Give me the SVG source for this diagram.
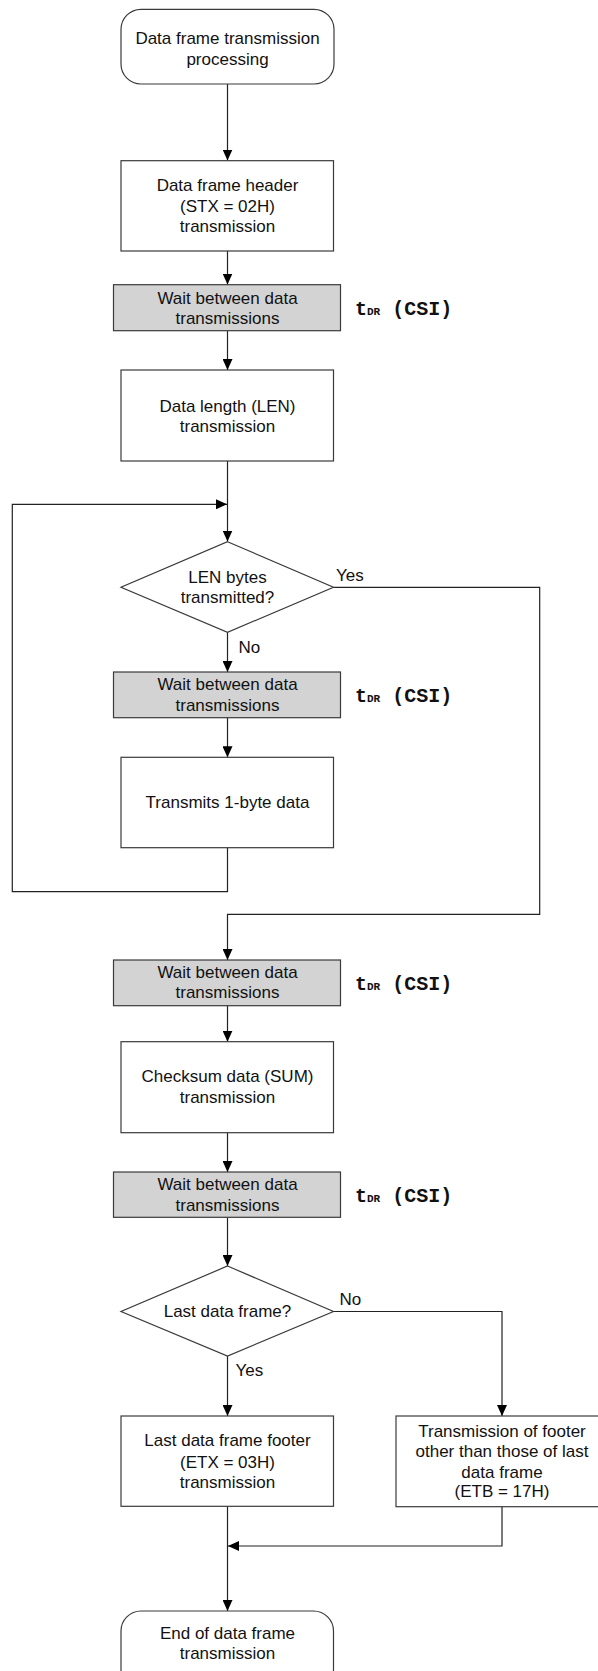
<svg xmlns="http://www.w3.org/2000/svg" width="598" height="1671" viewBox="0 0 598 1671">
<defs>
<marker id="arr" markerWidth="11" markerHeight="10" refX="11" refY="5" orient="auto" markerUnits="userSpaceOnUse">
<path d="M0,0 L11,5 L0,10 z" fill="#000"/>
</marker>
<style>
.box{fill:#fff;stroke:#3a3a3a;stroke-width:1.2}
.wait{fill:#d3d3d3;stroke:#3a3a3a;stroke-width:1.2}
.t{font-family:"Liberation Sans",Arial,sans-serif;font-size:17px;fill:#111;text-anchor:middle}
.l{font-family:"Liberation Sans",Arial,sans-serif;font-size:17px;fill:#111}
.m{font-family:"Liberation Mono","Courier New",monospace;font-size:20px;font-weight:bold;fill:#111}
.s{font-size:11px}
.c{fill:none;stroke:#222;stroke-width:1.2}
</style>
</defs>
<g id="connectors">
<path class="c" d="M227.5,84 V160.5" marker-end="url(#arr)"/>
<path class="c" d="M227.5,251 V284.5" marker-end="url(#arr)"/>
<path class="c" d="M227.5,330.7 V370" marker-end="url(#arr)"/>
<path class="c" d="M227.5,461 V541.5" marker-end="url(#arr)"/>
<path class="c" d="M227.5,632.3 V672" marker-end="url(#arr)"/>
<path class="c" d="M227.5,717.7 V757.3" marker-end="url(#arr)"/>
<path class="c" d="M227.5,847.7 V891.7 H12.3 V504.3 H227" marker-end="url(#arr)"/>
<path class="c" d="M333.5,587.3 H539.7 V914.3 H227.5 V960" marker-end="url(#arr)"/>
<path class="c" d="M227.5,1005.7 V1041.7" marker-end="url(#arr)"/>
<path class="c" d="M227.5,1132.7 V1172" marker-end="url(#arr)"/>
<path class="c" d="M227.5,1217.3 V1266" marker-end="url(#arr)"/>
<path class="c" d="M227.5,1356 V1416" marker-end="url(#arr)"/>
<path class="c" d="M333.5,1311.5 H502 V1416" marker-end="url(#arr)"/>
<path class="c" d="M227.5,1506.3 V1611" marker-end="url(#arr)"/>
<path class="c" d="M502,1506.7 V1546 H228" marker-end="url(#arr)"/>
</g>
<g id="start">
<rect class="box" x="121" y="9.3" width="213" height="74.7" rx="20" ry="20"/>
<text class="t" x="227.5" y="43.5">Data frame transmission</text>
<text class="t" x="227.5" y="65">processing</text>
</g>
<g id="header">
<rect class="box" x="121" y="160.7" width="212.5" height="90.3"/>
<text class="t" x="227.5" y="191">Data frame header</text>
<text class="t" x="227.5" y="211.7">(STX = 02H)</text>
<text class="t" x="227.5" y="232">transmission</text>
</g>
<g id="wait1">
<rect class="wait" x="113.5" y="284.7" width="227" height="46"/>
<text class="t" x="227.5" y="303.7">Wait between data</text>
<text class="t" x="227.5" y="323.7">transmissions</text>
<text class="m" x="355" y="315">t<tspan class="s">DR</tspan> (CSI)</text>
</g>
<g id="len">
<rect class="box" x="121" y="370" width="212.5" height="91"/>
<text class="t" x="227.5" y="411.7">Data length (LEN)</text>
<text class="t" x="227.5" y="431.5">transmission</text>
</g>
<g id="decision1">
<polygon class="box" points="227.5,541.7 333.5,587.3 227.5,632.3 121,587.3"/>
<text class="t" x="227.5" y="582.7">LEN bytes</text>
<text class="t" x="227.5" y="603.3">transmitted?</text>
<text class="l" x="336" y="581">Yes</text>
<text class="l" x="238.5" y="653.3">No</text>
</g>
<g id="wait2">
<rect class="wait" x="113.5" y="672" width="227" height="45.7"/>
<text class="t" x="227.5" y="690.3">Wait between data</text>
<text class="t" x="227.5" y="710.7">transmissions</text>
<text class="m" x="355" y="701.7">t<tspan class="s">DR</tspan> (CSI)</text>
</g>
<g id="byte">
<rect class="box" x="121" y="757.3" width="212.5" height="90.4"/>
<text class="t" x="227.5" y="808">Transmits 1-byte data</text>
</g>
<g id="wait3">
<rect class="wait" x="113.5" y="960" width="227" height="45.7"/>
<text class="t" x="227.5" y="978">Wait between data</text>
<text class="t" x="227.5" y="998.3">transmissions</text>
<text class="m" x="355" y="990">t<tspan class="s">DR</tspan> (CSI)</text>
</g>
<g id="checksum">
<rect class="box" x="121" y="1041.7" width="212.5" height="91"/>
<text class="t" x="227.5" y="1082">Checksum data (SUM)</text>
<text class="t" x="227.5" y="1102.7">transmission</text>
</g>
<g id="wait4">
<rect class="wait" x="113.5" y="1172" width="227" height="45.3"/>
<text class="t" x="227.5" y="1190.3">Wait between data</text>
<text class="t" x="227.5" y="1210.7">transmissions</text>
<text class="m" x="355" y="1201.7">t<tspan class="s">DR</tspan> (CSI)</text>
</g>
<g id="decision2">
<polygon class="box" points="227.5,1266 333.5,1311.5 227.5,1356 121,1311.5"/>
<text class="t" x="227.5" y="1317">Last data frame?</text>
<text class="l" x="339.5" y="1305.3">No</text>
<text class="l" x="235.5" y="1376">Yes</text>
</g>
<g id="lastfooter">
<rect class="box" x="121" y="1416" width="212.5" height="90.3"/>
<text class="t" x="227.5" y="1446">Last data frame footer</text>
<text class="t" x="227.5" y="1467.7">(ETX = 03H)</text>
<text class="t" x="227.5" y="1487.7">transmission</text>
</g>
<g id="otherfooter">
<rect class="box" x="396" y="1416" width="212" height="90.7"/>
<text class="t" x="502" y="1437">Transmission of footer</text>
<text class="t" x="502" y="1457.3">other than those of last</text>
<text class="t" x="502" y="1477.7">data frame</text>
<text class="t" x="502" y="1497.3">(ETB = 17H)</text>
</g>
<g id="end">
<rect class="box" x="121" y="1611" width="212.5" height="78" rx="20" ry="20"/>
<text class="t" x="227.5" y="1638.7">End of data frame</text>
<text class="t" x="227.5" y="1659.3">transmission</text>
</g>
</svg>
